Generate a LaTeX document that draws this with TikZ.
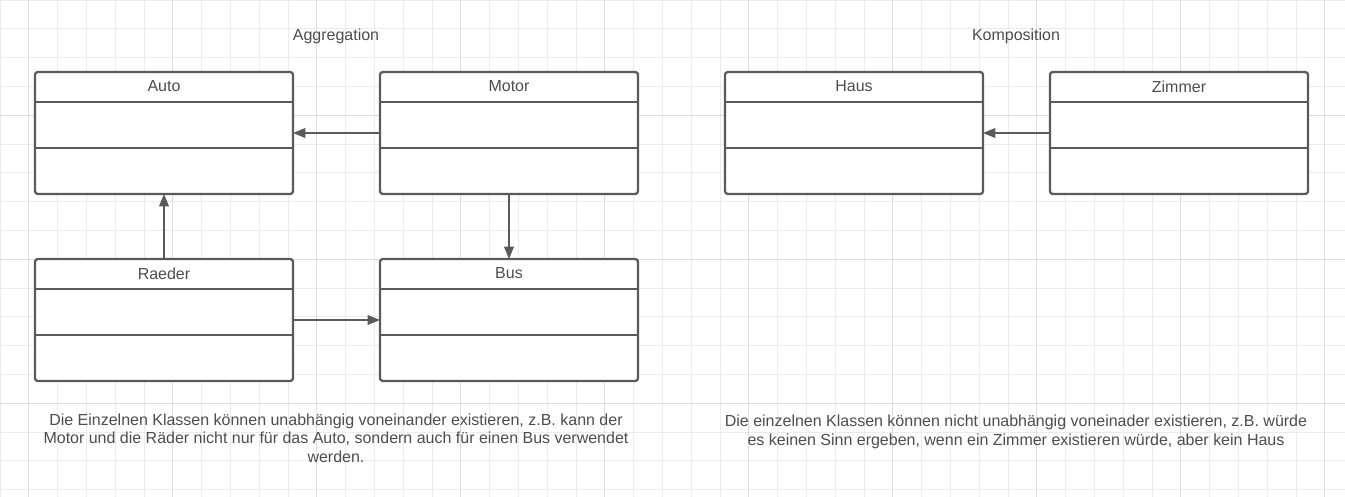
\documentclass[tikz,border=0pt]{standalone}
\usepackage{fontspec}
\setmainfont{Liberation Sans}
\usetikzlibrary{positioning,arrows.meta}

\definecolor{linegray}{HTML}{5A5A5A}
\definecolor{textgray}{HTML}{4D4D4D}
\definecolor{minorgrid}{HTML}{EBEBEB}
\definecolor{majorgrid}{HTML}{DDDDDD}

\begin{document}
\begin{tikzpicture}[
    font=\fontsize{9.1pt}{10.6pt}\selectfont,
    every node/.style={text=textgray},
    classbox/.style={rectangle, draw=linegray, fill=white, line width=1.3pt, rounded corners=1.6pt,
        minimum width=5.16cm, minimum height=2.44cm, outer sep=0pt},
    divider/.style={draw=linegray, line width=1.3pt},
    assoc/.style={-{Triangle[length=7pt,width=5.5pt]}, draw=linegray, line width=0.85pt},
    node distance=1.74cm
    ]
        %Background and grid
        \useasboundingbox (0,0) rectangle (26.9,-9.92);
        \begin{scope}
            \clip (0,0) rectangle (26.9,-9.92);
            \fill[white] (0,0) rectangle (26.9,-9.92);
            \draw[minorgrid, line width=0.5pt, step=0.576cm] (0,0.1) grid (27,-10);
            \draw[majorgrid, line width=0.6pt, step=2.88cm, shift={(0.576,0.576)}] (-0.7,-0.5) grid (26.5,-10.6);
        \end{scope}

        %Titles
        \node (aggtitle) at (6.72,-0.73) {Aggregation};
        \node (komptitle) at (20.32,-0.73) {Komposition};

        %Nodes
        \node[classbox]
            (auto)                      at (3.28,-2.66) {};
        \node[classbox]
            (motor)     [right=of auto]     {};
        \node[classbox]
            (raeder)    [below=1.3cm of auto] {};
        \node[classbox]
            (bus)       [right=of raeder]   {};
        \node[classbox]
            (haus)      [right=of motor]    {};
        \node[classbox]
            (zimmer)    [right=1.34cm of haus] {};

        %Names and compartments
        \foreach \c/\t in {auto/Auto, motor/Motor, raeder/Raeder, bus/Bus, haus/Haus, zimmer/Zimmer} {
            \node (\c-name) at ([yshift=-0.29cm]\c.north) {\t};
            \draw[divider] ([yshift=-0.6cm]\c.north west) -- ([yshift=-0.6cm]\c.north east);
            \draw[divider] ([yshift=-1.52cm]\c.north west) -- ([yshift=-1.52cm]\c.north east);
        }

        %Lines
        \draw[assoc] (motor.west) -- (auto.east);
        \draw[assoc] (raeder.north) -- (auto.south);
        \draw[assoc] (motor.south) -- (bus.north);
        \draw[assoc] (raeder.east) -- (bus.west);
        \draw[assoc] (zimmer.west) -- (haus.east);

        %Notes
        \node[align=center] (aggnote) at (6.72,-8.76)
            {Die Einzelnen Klassen können unabhängig voneinander existieren, z.B. kann der\\
             Motor und die Räder nicht nur für das Auto, sondern auch für einen Bus verwendet\\
             werden.};
        \node[align=center] (kompnote) at (20.32,-8.64)
            {Die einzelnen Klassen können nicht unabhängig voneinader existieren, z.B. würde\\
             es keinen Sinn ergeben, wenn ein Zimmer existieren würde, aber kein Haus};
    \end{tikzpicture}
\end{document}
